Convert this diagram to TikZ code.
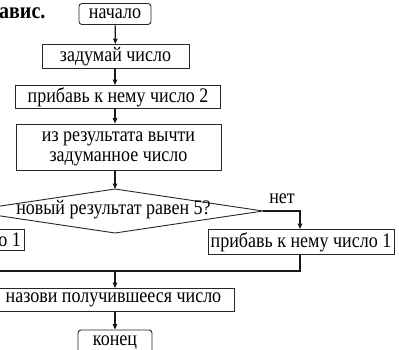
\documentclass[tikz,border=0pt]{standalone}
\usepackage{fontspec}
\usepackage{graphicx}
\setmainfont{Liberation Serif}
\usetikzlibrary{arrows.meta}
\newcommand{\vs}[1]{\scalebox{1}[1.15]{#1}}
\tikzset{
  box/.style={draw=black!85, line width=0.9pt, inner sep=0pt, font=\fontsize{18}{20}\selectfont},
  term/.style={box, rounded corners=3pt},
  txt/.style={inner sep=0pt, font=\fontsize{18}{20}\selectfont},
  conn/.style={line width=1.2pt, black!90},
  arr/.style={conn, -{Triangle[length=5.5pt,width=4.5pt]}},
}
\begin{document}
\begin{tikzpicture}[x=1pt,y=-1pt]
\useasboundingbox (0,0) rectangle (399,350);
\clip (0,0) rectangle (399,350);
% cropped caption
\node[txt, font=\fontsize{20}{22}\selectfont\bfseries, anchor=base west] (cap) at (-1,19) {\vs{авис.}};
% boxes
\node[term, minimum width=72pt, minimum height=21pt] (start) at (115,14) {\vs{начало}};
\node[box, minimum width=147pt, minimum height=24pt] (n1) at (115.5,56.5) {\vs{задумай число}};
\node[box, minimum width=205pt, minimum height=23pt] (n2) at (118,97) {\vs{прибавь к нему число 2}};
\node[box, minimum width=205pt, minimum height=46pt] (n3) at (118.5,147) {\vs{\begin{tabular}{@{}c@{}}из результата вычти\\[-2pt]задуманное число\end{tabular}}};
% decision
\coordinate (qt) at (115,189);
\coordinate (qr) at (263,211);
\coordinate (qb) at (115,233);
\coordinate (ql) at (-33,211);
\draw[box] (qt) -- (qr) -- (qb) -- (ql) -- cycle;
\node[txt] (q) at (113.5,210) {\vs{новый результат равен 5?}};
\node[txt, anchor=base] (no) at (282,204) {\vs{нет}};
% branches
\node[box, minimum width=186pt, minimum height=25pt] (r) at (301,242) {\vs{прибавь к нему число 1}};
\draw[box] (-80,229) rectangle (24,250);
\node[txt, anchor=base east] (l) at (21,246) {\vs{о 1}};
\node[box, minimum width=242pt, minimum height=23pt] (n5) at (113.5,300) {\vs{назови получившееся число}};
\node[term, minimum width=74pt, minimum height=26pt] (end) at (115,343) {\vs{конец}};
\coordinate (j) at (115,271);
\coordinate (jr) at (300,271);
\coordinate (jl) at (-20,271);
% connectors
\draw[arr] (start) -- (n1);
\draw[arr] (n1.south -| start) -- (n2.north -| start);
\draw[arr] (n2.south -| start) -- (n3.north -| start);
\draw[arr] (n3.south -| start) -- (qt);
\draw[arr] (qr) -| (r.north -| jr);
\draw[conn] (r.south -| jr) -- (jr) -- (jl);
\draw[arr] (j) -- (n5.north -| j);
\draw[arr] (n5.south -| j) -- (end);
\end{tikzpicture}
\end{document}
